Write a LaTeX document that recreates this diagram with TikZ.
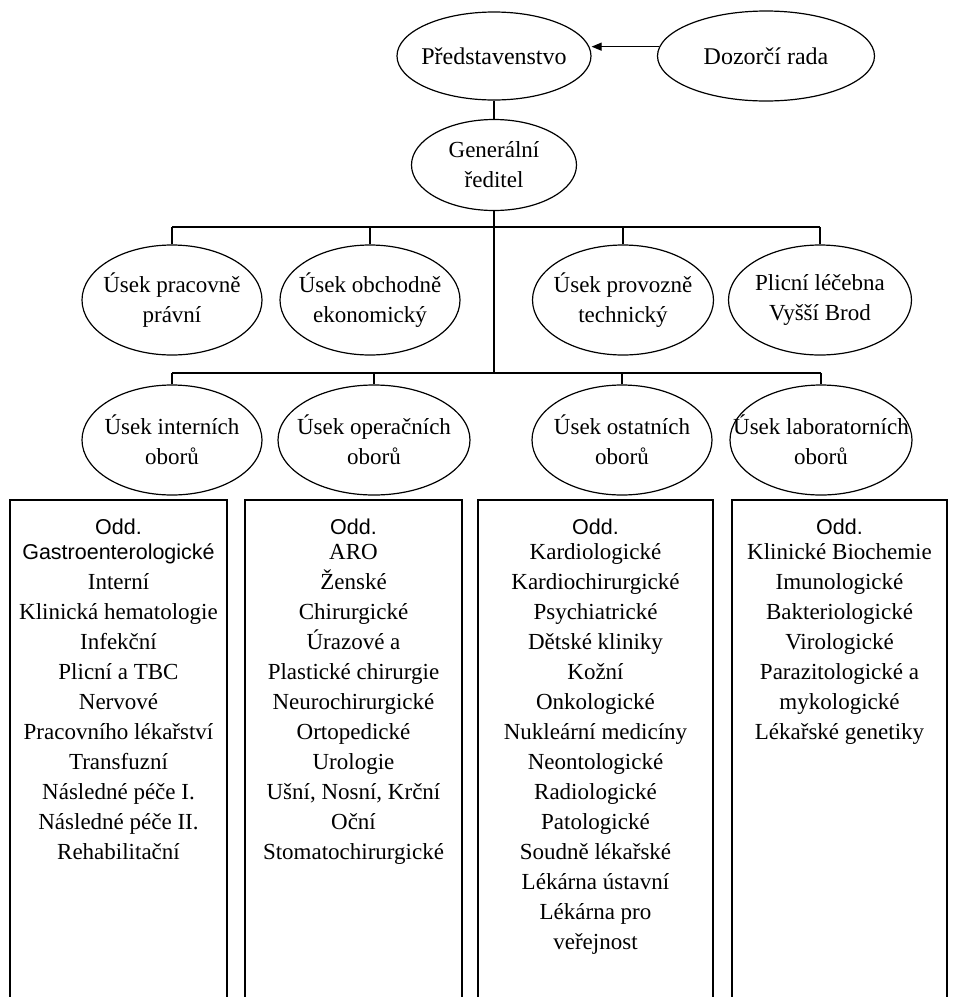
\documentclass[tikz,border=0pt]{standalone}
\usepackage{fontspec}
\setmainfont{Liberation Serif}
\setsansfont{Liberation Sans}
\usetikzlibrary{shapes.geometric,arrows.meta}
\tikzset{
  oval/.style={draw, ellipse, line width=1.2pt, inner xsep=-25pt, inner ysep=0pt,
    align=center, font=\fontsize{23}{30}\selectfont},
  ward/.style={draw, line width=1.6pt, anchor=north, minimum width=#1, minimum height=530pt},
  wardlist/.style={anchor=north, align=center, inner sep=0pt, font=\fontsize{23}{30}\selectfont},
  link/.style={line width=1.2pt}
}
\newcommand{\oddsans}[1]{{\sffamily\fontsize{21.5}{30}\selectfont #1}}

\begin{document}
\begin{tikzpicture}[x=1pt, y=-1pt]
\path[fill=white, use as bounding box] (0,0) rectangle (955,997);
\clip (0,0) rectangle (955,997);

% top
\node[oval, minimum width=194pt, minimum height=88pt, font=\fontsize{24}{30}\selectfont] (pred) at (494,56) {Představenstvo};
\node[oval, minimum width=217pt, minimum height=90pt, font=\fontsize{24}{30}\selectfont] (doz) at (766,56) {Dozorčí rada};
\node[oval, minimum width=165pt, minimum height=91pt] (gen) at (494,165) {Generální\\ředitel};

% second level
\node[oval, minimum width=180pt, minimum height=110pt] (u1) at (172,300) {Úsek pracovně\\právní};
\node[oval, minimum width=180pt, minimum height=110pt] (u2) at (370,300) {Úsek obchodně\\ekonomický};
\node[oval, minimum width=181pt, minimum height=110pt] (u3) at (623,300) {Úsek provozně\\technický};
\node[oval, minimum width=183pt, minimum height=110pt] (u4) at (820,300) {Plicní léčebna\\Vyšší Brod};

% third level
\node[oval, minimum width=180pt, minimum height=110pt] (o1) at (172,440) {Úsek interních\\oborů};
\node[oval, minimum width=192pt, minimum height=110pt] (o2) at (374,440) {Úsek operačních\\oborů};
\node[oval, minimum width=180pt, minimum height=110pt] (o3) at (622,440) {Úsek ostatních\\oborů};
\node[oval, minimum width=182pt, minimum height=110pt] (o4) at (821,440) {Úsek laboratorních\\oborů};

\coordinate (busA) at (0,227);
\coordinate (busB) at (0,373);

% connectors
\draw[-{Triangle[length=10pt,width=8pt]}, link] (doz.175) -- (doz.175 -| pred.east);
\draw[link] (pred) -- (gen);
\draw[link] (gen.south) -- (gen.south |- busB);
\draw[link] (u1.north |- busA) -- (u4.north |- busA);
\draw[link] (o1.north |- busB) -- (o4.north |- busB);
\foreach \n in {u1,u2,u3,u4} \draw[link] (\n.north) -- (\n.north |- busA);
\foreach \n in {o1,o2,o3,o4} \draw[link] (\n.north) -- (\n.north |- busB);

% wards
\node[ward=217pt] (w1) at (118.5,499) {};
\node[ward=217pt] (w2) at (353.5,499) {};
\node[ward=235pt] (w3) at (595.5,499) {};
\node[ward=215pt] (w4) at (839.5,499) {};

\node[wardlist] (l1) at ([yshift=-20pt]w1.north) {\oddsans{Odd.}\\[-5pt]
  \oddsans{Gastroenterologické}\\ Interní\\ Klinická hematologie\\ Infekční\\
  Plicní a TBC\\ Nervové\\ Pracovního lékařství\\ Transfuzní\\
  Následné péče I.\\ Následné péče II.\\ Rehabilitační};
\node[wardlist] (l2) at ([yshift=-20pt]w2.north) {\oddsans{Odd.}\\[-5pt]
  ARO\\ Ženské\\ Chirurgické\\ Úrazové a\\ Plastické chirurgie\\
  Neurochirurgické\\ Ortopedické\\ Urologie\\ Ušní, Nosní, Krční\\
  Oční\\ Stomatochirurgické};
\node[wardlist] (l3) at ([yshift=-20pt]w3.north) {\oddsans{Odd.}\\[-5pt]
  Kardiologické\\ Kardiochirurgické\\ Psychiatrické\\ Dětské kliniky\\
  Kožní\\ Onkologické\\ Nukleární medicíny\\ Neontologické\\
  Radiologické\\ Patologické\\ Soudně lékařské\\ Lékárna ústavní\\
  Lékárna pro\\ veřejnost};
\node[wardlist] (l4) at ([yshift=-20pt]w4.north) {\oddsans{Odd.}\\[-5pt]
  Klinické Biochemie\\ Imunologické\\ Bakteriologické\\ Virologické\\
  Parazitologické a\\ mykologické\\ Lékařské genetiky};
\end{tikzpicture}
\end{document}
